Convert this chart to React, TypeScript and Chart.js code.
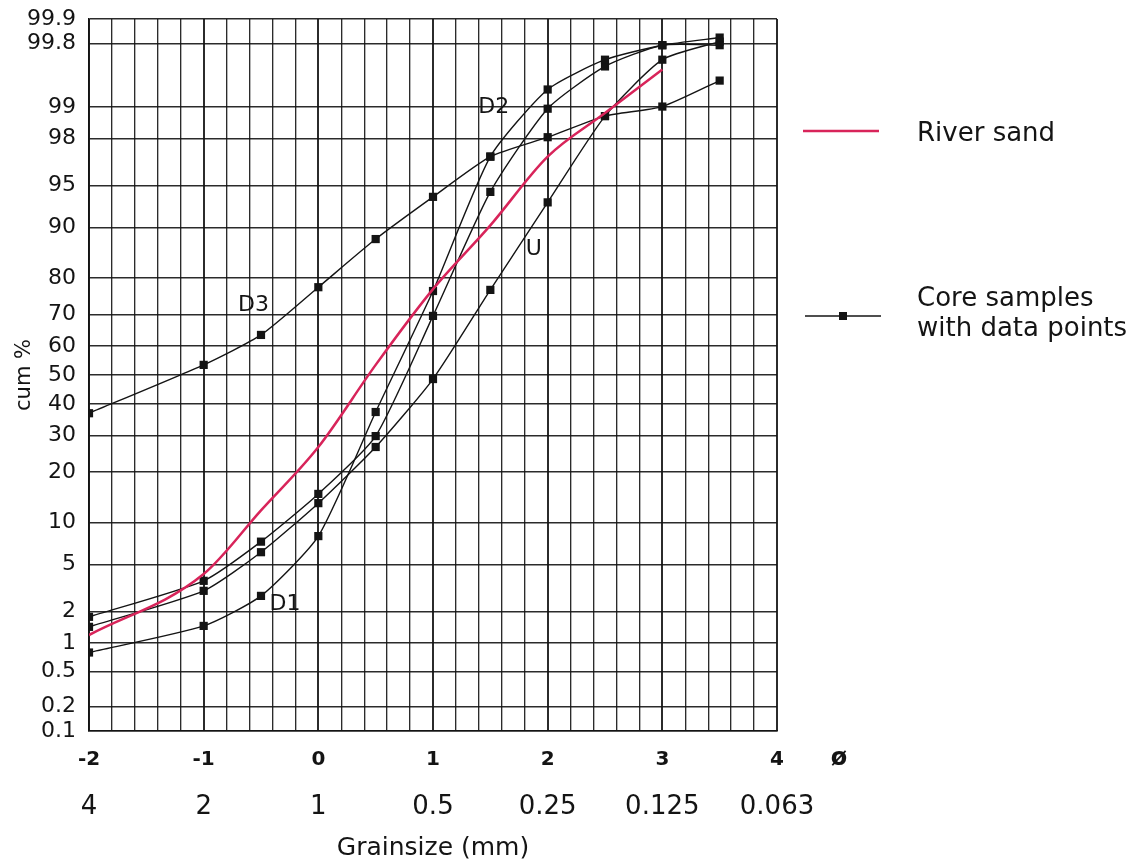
import React, { useEffect, useRef } from 'react';
import { Chart, registerables } from 'chart.js';

Chart.register(...registerables);

// ---- data (cum %) ----
const PHI = [-2, -1, -0.5, 0, 0.5, 1, 1.5, 2, 2.5, 3, 3.5];
const D1 = [0.8, 1.47, 2.76, 8.1, 37.4, 76.7, 97.1, 99.34, 99.69, 99.79, 99.83];
const D2 = [1.79, 3.7, 7.4, 15.1, 29.8, 69.6, 94.4, 98.96, 99.63, 99.79, 99.79];
const D3 = [37, 53.5, 63.6, 77.7, 88.1, 93.9, 97.1, 98.05, 98.77, 99.01, 99.47];
const U = [1.44, 3.05, 6.2, 13.3, 26.6, 48.6, 77, 93.3, 98.77, 99.69, 99.81];

const RIVER_PHI = [-2, -1, -0.5, 0, 0.5, 1, 1.5, 2, 2.5, 3];
const RIVER = [1.2, 4.2, 12.0, 26.6, 53.5, 77.2, 90.3, 97.1, 98.85, 99.6];

const Y_TICKS = [0.1, 0.2, 0.5, 1, 2, 5, 10, 20, 30, 40, 50, 60, 70, 80, 90, 95, 98, 99, 99.8, 99.9];
const PHI_TICKS = [-2, -1, 0, 1, 2, 3, 4];
const MM_LABELS = ['4', '2', '1', '0.5', '0.25', '0.125', '0.063'];

const CURVE_NAMES = ['D1', 'D2', 'D3', 'U'];
const CURVE_NAME_PHI = [-0.29, 1.53, -0.565, 1.88];
const CURVE_NAME_PCT = [2.35, 98.99, 72.8, 86.3];

const FONT = '"DejaVu Sans", "Noto Sans", sans-serif';

// inverse normal CDF (probability paper), input in percent
function probit(pct: number): number {
  const p = pct / 100;
  const a = [-3.969683028665376e1, 2.209460984245205e2, -2.759285104469687e2, 1.38357751867269e2, -3.066479806614716e1, 2.506628277459239];
  const b = [-5.447609879822406e1, 1.615858368580409e2, -1.556989798598866e2, 6.680131188771972e1, -1.328068155288572e1];
  const c = [-7.784894002430293e-3, -3.223964580411365e-1, -2.400758277161838, -2.549671299489120, 4.374664141464968, 2.938163982698783];
  const d = [7.784695709041462e-3, 3.224671290700398e-1, 2.445134137142996, 3.754408661907416];
  const plow = 0.02425;
  const phigh = 1 - plow;
  let q: number, r: number;
  if (p < plow) {
    q = Math.sqrt(-2 * Math.log(p));
    return (((((c[0] * q + c[1]) * q + c[2]) * q + c[3]) * q + c[4]) * q + c[5]) / ((((d[0] * q + d[1]) * q + d[2]) * q + d[3]) * q + 1);
  }
  if (p <= phigh) {
    q = p - 0.5;
    r = q * q;
    return ((((((a[0] * r + a[1]) * r + a[2]) * r + a[3]) * r + a[4]) * r + a[5]) * q) / (((((b[0] * r + b[1]) * r + b[2]) * r + b[3]) * r + b[4]) * r + 1);
  }
  q = Math.sqrt(-2 * Math.log(1 - p));
  return -(((((c[0] * q + c[1]) * q + c[2]) * q + c[3]) * q + c[4]) * q + c[5]) / ((((d[0] * q + d[1]) * q + d[2]) * q + d[3]) * q + 1);
}

const toPoints = (xs: number[], ys: number[]) => xs.map((x, i) => ({ x, y: probit(ys[i]) }));

const RED = '#d8245a';
const INK = '#141414';

const overlayPlugin = {
  id: 'overlayText',
  afterDraw(chart: any) {
    const { ctx, scales, chartArea } = chart;
    const xs = scales.x;
    const ys = scales.y;
    ctx.save();
    ctx.fillStyle = INK;
    ctx.textBaseline = 'middle';
    ctx.textAlign = 'center';
    ctx.font = `22px ${FONT}`;
    CURVE_NAMES.forEach((n, i) => {
      ctx.fillText(n, xs.getPixelForValue(CURVE_NAME_PHI[i]), ys.getPixelForValue(probit(CURVE_NAME_PCT[i])));
    });
    // phi symbol
    ctx.font = `bold 24px ${FONT}`;
    ctx.fillText('ø', chartArea.right + 62, 759);

    // legend
    const lx0 = chartArea.right + 26;
    const lx1 = chartArea.right + 102;
    const tx = chartArea.right + 140;
    ctx.textAlign = 'left';
    ctx.strokeStyle = RED;
    ctx.lineWidth = 2.5;
    ctx.beginPath();
    ctx.moveTo(lx0, 131);
    ctx.lineTo(lx1, 131);
    ctx.stroke();
    ctx.font = `26px ${FONT}`;
    ctx.fillText('River sand', tx, 134);

    ctx.strokeStyle = INK;
    ctx.lineWidth = 1.6;
    ctx.beginPath();
    ctx.moveTo(lx0 + 2, 316);
    ctx.lineTo(lx1 + 2, 316);
    ctx.stroke();
    ctx.fillRect((lx0 + lx1) / 2 + 2 - 4, 312, 8, 8);
    ctx.fillText('Core samples', tx, 299);
    ctx.fillText('with data points', tx, 329);
    ctx.restore();
  },
};

export default function App() {
  const ref = useRef<HTMLCanvasElement | null>(null);

  useEffect(() => {
    if (!ref.current) return;
    const coreStyle = {
      borderColor: INK,
      borderWidth: 1.4,
      pointStyle: 'rect',
      pointRadius: 5.8,
      pointBackgroundColor: INK,
      pointBorderColor: INK,
      pointBorderWidth: 0,
      tension: 0.2,
      fill: false,
    };
    const chart = new Chart(ref.current, {
      type: 'line',
      data: {
        datasets: [
          {
            label: 'River sand',
            data: toPoints(RIVER_PHI, RIVER),
            borderColor: RED,
            borderWidth: 2.5,
            pointRadius: 0,
            cubicInterpolationMode: 'monotone',
            fill: false,
          },
          { label: 'D1', data: toPoints(PHI, D1), ...coreStyle },
          { label: 'D2', data: toPoints(PHI, D2), ...coreStyle },
          { label: 'D3', data: toPoints(PHI, D3), ...coreStyle },
          { label: 'U', data: toPoints(PHI, U), ...coreStyle },
        ] as any,
      },
      options: {
        animation: false,
        responsive: false,
        devicePixelRatio: 1,
        layout: { padding: { left: 0, top: 19, right: 357, bottom: 0 } },
        plugins: { legend: { display: false }, tooltip: { enabled: false } },
        scales: {
          x: {
            type: 'linear',
            position: 'bottom',
            min: -2,
            max: 4,
            afterBuildTicks: (scale: any) => {
              const t = [];
              for (let i = 0; i <= 30; i++) t.push({ value: Math.round((-2 + i * 0.2) * 10) / 10 });
              scale.ticks = t;
            },
            afterFit: (scale: any) => {
              scale.height = 50;
              scale.paddingLeft = 0;
              scale.paddingRight = 0;
            },
            grid: {
              drawTicks: false,
              color: 'rgba(20,20,20,0.9)',
              lineWidth: (c: any) => (c.tick && Number.isInteger(c.tick.value) ? 2 : 1.35),
            },
            border: { display: true, color: INK, width: 1.6 },
            ticks: {
              autoSkip: false,
              maxRotation: 0,
              padding: 17,
              color: INK,
              font: { family: FONT, size: 20, weight: 'bold' },
              callback: (v: any) => (PHI_TICKS.includes(Number(v)) ? String(v) : ''),
            },
          },
          x2: {
            type: 'linear',
            position: 'bottom',
            min: -2,
            max: 4,
            afterBuildTicks: (scale: any) => {
              scale.ticks = PHI_TICKS.map((v) => ({ value: v }));
            },
            afterFit: (scale: any) => {
              scale.height = 82;
              scale.paddingLeft = 0;
              scale.paddingRight = 0;
            },
            grid: { display: false, drawTicks: false },
            border: { display: false },
            ticks: {
              autoSkip: false,
              maxRotation: 0,
              padding: 11,
              color: INK,
              font: { family: FONT, size: 26 },
              callback: (_v: any, i: number) => MM_LABELS[i],
            },
            title: {
              display: true,
              text: 'Grainsize (mm)',
              color: INK,
              font: { family: FONT, size: 25 },
              padding: { top: 0, bottom: 0 },
            },
          },
          y: {
            type: 'linear',
            min: probit(0.1),
            max: probit(99.9),
            afterBuildTicks: (scale: any) => {
              scale.ticks = Y_TICKS.map((p) => ({ value: probit(p) }));
            },
            afterFit: (scale: any) => {
              scale.width = 89;
              scale.paddingTop = 0;
              scale.paddingBottom = 0;
            },
            grid: {
              drawTicks: false,
              color: 'rgba(20,20,20,0.9)',
              lineWidth: 1.45,
            },
            border: { display: true, color: INK, width: 1.6 },
            ticks: {
              autoSkip: false,
              padding: 13,
              color: INK,
              font: { family: FONT, size: 22 },
              callback: (_v: any, i: number) => String(Y_TICKS[i]),
            },
            title: {
              display: true,
              text: 'cum %',
              color: INK,
              font: { family: FONT, size: 21 },
              padding: { top: 12, bottom: 0 },
            },
          },
        },
      } as any,
      plugins: [overlayPlugin],
    });
    return () => chart.destroy();
  }, []);

  return (
    <div style={{ position: 'absolute', left: 0, top: 0, width: 1134, height: 863, background: '#fff' }}>
      <canvas ref={ref} width={1134} height={863} />
    </div>
  );
}
